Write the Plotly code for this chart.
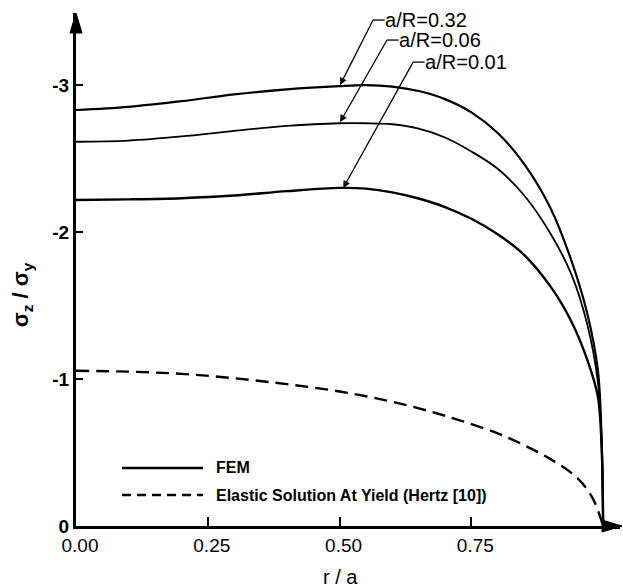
import plotly.graph_objects as go

# ---- data ----
r_fem = [0, 0.1, 0.2, 0.3, 0.4, 0.5, 0.55, 0.6, 0.65, 0.7, 0.75, 0.8, 0.85, 0.9, 0.94, 0.97, 0.99, 0.997, 1.0]
s_032 = [-2.83, -2.852, -2.89, -2.936, -2.971, -2.993, -2.999, -2.989, -2.959, -2.904, -2.814, -2.674, -2.464, -2.164, -1.804, -1.444, -1.06, -0.6, 0]
s_006 = [-2.614, -2.622, -2.65, -2.688, -2.722, -2.74, -2.74, -2.733, -2.703, -2.643, -2.548, -2.43, -2.25, -1.99, -1.71, -1.37, -0.98, -0.6, 0]
s_001 = [-2.218, -2.222, -2.23, -2.248, -2.278, -2.30, -2.295, -2.27, -2.228, -2.17, -2.09, -1.985, -1.845, -1.63, -1.39, -1.13, -0.88, -0.55, 0]

r_hertz = [0, 0.1, 0.2, 0.3, 0.4, 0.5, 0.6, 0.7, 0.8, 0.85, 0.9, 0.95, 0.98, 1.0]
s_hertz = [-1.056, -1.05, -1.035, -1.005, -0.965, -0.915, -0.845, -0.75, -0.63, -0.55, -0.455, -0.33, -0.19, 0]

x_ticks = [0, 0.25, 0.5, 0.75, 1.0]
x_ticktext = ["0.00", "0.25", "0.50", "0.75", "1.00"]
y_ticks = [0, -1, -2, -3]
y_ticktext = ["0", "-1", "-2", "-3"]

labels = ["a/R=0.32", "a/R=0.06", "a/R=0.01"]
# arrow tip on curve (r, value) and leader tail (r, value)
label_tip = [(0.501, -3.0), (0.501, -2.748), (0.507, -2.30)]
label_tail = [(0.5636, -3.442), (0.590, -3.306), (0.6395, -3.156)]

legend_names = ["FEM", "Elastic Solution At Yield (Hertz [10])"]

FONT = "Liberation Sans, Arial, sans-serif"
NB = "\u00a0"

fig = go.Figure()
for s, w in [(s_032, 2.2), (s_006, 1.8), (s_001, 2.4)]:
    fig.add_trace(go.Scatter(x=r_fem, y=s, mode="lines",
                             line=dict(color="black", width=w, shape="spline", smoothing=1.0),
                             showlegend=False, hoverinfo="skip"))
fig.add_trace(go.Scatter(x=r_hertz, y=s_hertz, mode="lines",
                         line=dict(color="black", width=2.4, dash="13px,7px", shape="spline", smoothing=1.0),
                         showlegend=False, hoverinfo="skip"))

annotations = []
shapes = []
for txt, tip, tail in zip(labels, label_tip, label_tail):
    annotations.append(dict(x=tip[0], y=tip[1], ax=tail[0], ay=tail[1], xref="x", yref="y",
                            axref="x", ayref="y", text=NB + NB + txt, showarrow=True,
                            xanchor="left", yanchor="middle", borderpad=0,
                            font=dict(family=FONT, size=20, color="black"),
                            arrowhead=2, arrowsize=1.1, arrowwidth=1.3, arrowcolor="black", standoff=0))
    shapes.append(dict(type="line", xref="x", yref="y", x0=tail[0], y0=tail[1], x1=tail[0] + 0.022, y1=tail[1],
                       line=dict(color="black", width=1.3)))

# legend (custom)
leg_y = [0.1131, 0.0604]
for name, yy, dash in zip(legend_names, leg_y, ["solid", "9px,6px"]):
    shapes.append(dict(type="line", xref="paper", yref="paper", x0=0.0846, x1=0.2335, y0=yy, y1=yy,
                       line=dict(color="black", width=2.4, dash=dash)))
    annotations.append(dict(x=0.2540, y=yy, xref="paper", yref="paper", text="<b>" + name + "</b>",
                            showarrow=False, xanchor="left", yanchor="middle",
                            font=dict(family=FONT, size=16, color="black")))

# axis titles
annotations.append(dict(x=0.487, y=-0.099, xref="paper", yref="paper", text="r / a", showarrow=False,
                        xanchor="center", yanchor="middle", font=dict(family=FONT, size=20, color="black")))
annotations.append(dict(x=-0.099, y=0.45, xref="paper", yref="paper",
                        text="<b>σ<sub>z</sub> / σ<sub>y</sub></b>", showarrow=False, textangle=-90,
                        xanchor="center", yanchor="middle", font=dict(family=FONT, size=22, color="black")))

# axis arrowheads
shapes.append(dict(type="path", xref="paper", yref="paper", xsizemode="pixel", ysizemode="pixel",
                   xanchor=0, yanchor=1, path="M -6,-20 L 0,0 L 6,-20 Z",
                   fillcolor="black", line=dict(color="black", width=1)))
shapes.append(dict(type="path", xref="paper", yref="paper", xsizemode="pixel", ysizemode="pixel",
                   xanchor=1, yanchor=0, path="M -18,-6 L 2,0 L -18,6 Z",
                   fillcolor="black", line=dict(color="black", width=1)))

fig.update_layout(
    width=623, height=588,
    margin=dict(l=76, r=3, t=13, b=62),
    paper_bgcolor="white", plot_bgcolor="white",
    showlegend=False,
    annotations=annotations, shapes=shapes,
    xaxis=dict(range=[0, 1.032], showline=True, linewidth=3, linecolor="black", mirror=False,
               ticks="inside", ticklen=9, tickwidth=2, tickcolor="black",
               tickvals=x_ticks, ticktext=x_ticktext, ticklabelshift=4,
               tickfont=dict(family=FONT, size=19, color="black"),
               showgrid=False, zeroline=False),
    yaxis=dict(range=[0, -3.49], showline=True, linewidth=3, linecolor="black",
               ticks="inside", ticklen=7, tickwidth=2, tickcolor="black",
               tickvals=y_ticks, ticktext=["<b>" + t + "</b>" for t in y_ticktext],
               tickfont=dict(family=FONT, size=19, color="black"),
               showgrid=False, zeroline=False),
)

fig.write_html("out.html")
